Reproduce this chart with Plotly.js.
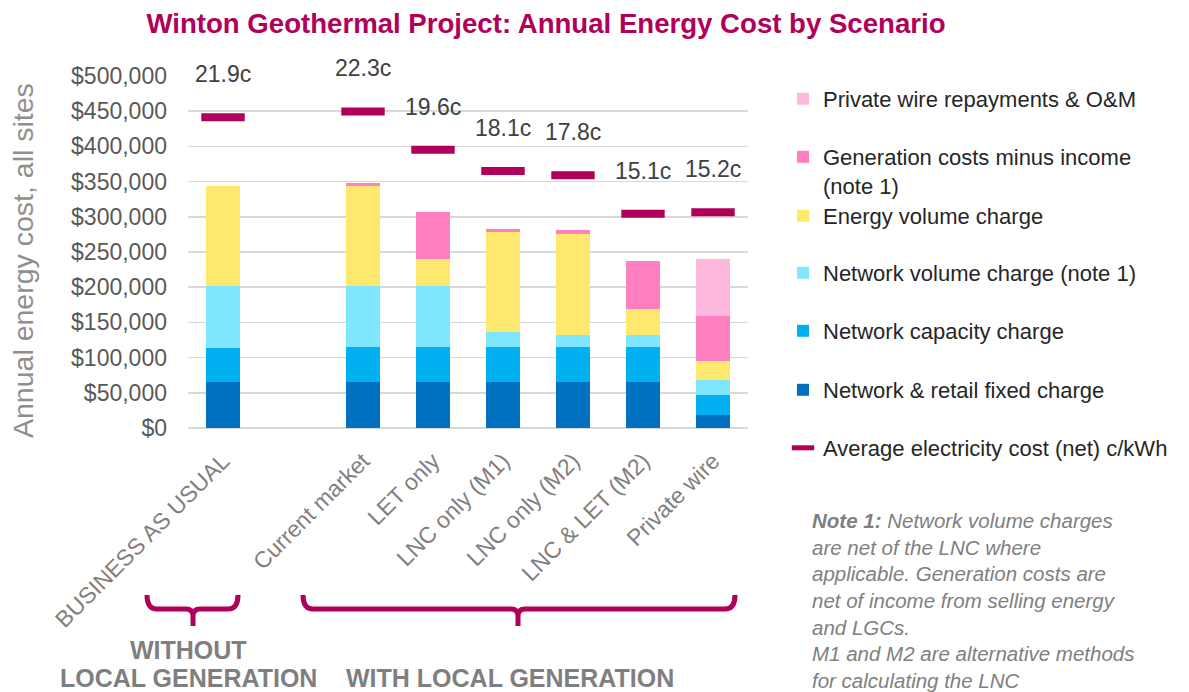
<!DOCTYPE html>
<html>
<head>
<meta charset="utf-8">
<script src="https://cdn.plot.ly/plotly-3.0.1.min.js"></script>
<style>html,body{margin:0;padding:0;background:#fff;}#chart{width:1189px;height:692px;}</style>
</head>
<body>
<div id="chart"></div>
<script>
// ---- data ----
const scenarios = ['BUSINESS AS USUAL', 'Current market', 'LET only', 'LNC only (M1)', 'LNC only (M2)', 'LNC & LET (M2)', 'Private wire'];
const axisCategories = ['BUSINESS AS USUAL', ' ', 'Current market', 'LET only', 'LNC only (M1)', 'LNC only (M2)', 'LNC & LET (M2)', 'Private wire'];
const fixedCharge    = [66000, 66000, 66000, 66000, 66000, 66000, 18000];
const capacityCharge = [47000, 49000, 49000, 49000, 49000, 49000, 29000];
const networkVolume  = [89000, 87000, 87000, 21000, 17000, 17000, 21000];
const energyVolume   = [142000, 141500, 37500, 142000, 144000, 37000, 27000];
const generationNet  = [0, 5000, 68000, 4300, 4800, 68000, 64000];
const privateWire    = [0, 0, 0, 0, 0, 0, 81000];
const avgCost        = [21.9, 22.3, 19.6, 18.1, 17.8, 15.1, 15.2]; // c/kWh

const seriesNames = {
  fixed: 'Network & retail fixed charge',
  capacity: 'Network capacity charge',
  netvol: 'Network volume charge (note 1)',
  energy: 'Energy volume charge',
  gen: 'Generation costs minus income<br>(note 1)',
  pw: 'Private wire repayments & O&M',
  avg: 'Average electricity cost (net) c/kWh'
};
const noteLines = [
  '<b>Note 1:</b> Network volume charges',
  'are net of the LNC where',
  'applicable. Generation costs are',
  'net of income from selling energy',
  'and LGCs.',
  'M1 and M2 are alternative methods',
  'for calculating the LNC'
];

// ---- layout geometry (pixels) ----
const W = 1189, H = 692;
const PL = 188, PR = 748, PT = 76, PB = 428;
const px = x => (x - PL) / (PR - PL);
const py = y => (PB - y) / (PB - PT);
const MAGENTA = '#B0005A';

function bar(y, name, color, legendId) {
  return {type: 'bar', x: scenarios, y: y, name: name, legend: legendId,
    marker: {color: color, line: {width: 0}}, hoverinfo: 'name+y'};
}
const traces = [
  bar(fixedCharge, seriesNames.fixed, '#0070C0', 'legend6'),
  bar(capacityCharge, seriesNames.capacity, '#00B0F0', 'legend5'),
  bar(networkVolume, seriesNames.netvol, '#80E7FE', 'legend4'),
  bar(energyVolume, seriesNames.energy, '#FEE96E', 'legend3'),
  bar(generationNet, seriesNames.gen, '#FF7FC1', 'legend2'),
  bar(privateWire, seriesNames.pw, '#FFB8DD', 'legend'),
  {type: 'scatter', mode: 'markers', x: scenarios, y: avgCost, yaxis: 'y2',
   name: seriesNames.avg, legend: 'legend7',
   marker: {symbol: 'line-ew', size: 31, color: MAGENTA, line: {color: MAGENTA, width: 8}}}
];

const FONT = 'Liberation Sans, Arial, sans-serif';
function legendAt(yPx, anchor) {
  return {x: px(783), xanchor: 'left', y: py(yPx), yanchor: anchor || 'middle',
    bgcolor: 'rgba(0,0,0,0)', valign: 'top',
    font: {family: FONT, size: 22, color: '#262626'}};
}

function brace(x1, x2, xm) {
  const yT = 595, yL = 609, yTip = 626, r = 10, rm = 7;
  const P = (x, y) => px(x).toFixed(5) + ',' + py(y).toFixed(5);
  return 'M' + P(x1, yT) + ' Q' + P(x1, yL) + ' ' + P(x1 + r, yL) +
    ' L' + P(xm - rm, yL) + ' Q' + P(xm, yL) + ' ' + P(xm, yL + rm) +
    ' L' + P(xm, yTip) + ' M' + P(xm, yL + rm) + ' Q' + P(xm, yL) + ' ' + P(xm + rm, yL) +
    ' L' + P(x2 - r, yL) + ' Q' + P(x2, yL) + ' ' + P(x2, yT);
}

function textAnn(text, xPx, yPx, size, color, opts) {
  return Object.assign({text: text, xref: 'paper', yref: 'paper', x: px(xPx), y: py(yPx),
    xanchor: 'center', yanchor: 'middle', showarrow: false,
    font: {family: FONT, size: size, color: color}}, opts || {});
}

const annotations = [];
// average labels, positioned from the data
avgCost.forEach((v, i) => {
  annotations.push({x: scenarios[i], y: v, xref: 'x', yref: 'y2', yshift: 43,
    text: v.toFixed(1) + 'c', showarrow: false, xanchor: 'center', yanchor: 'middle',
    font: {family: FONT, size: 23, color: '#404040'}});
});
// y-axis title
annotations.push(textAnn('Annual energy cost, all sites', 23, 261, 28.5, '#8f8f8f', {textangle: -90}));
// group labels
annotations.push(textAnn('<b>WITHOUT</b>', 188, 650, 25, '#7f7f7f'));
annotations.push(textAnn('<b>LOCAL GENERATION</b>', 188, 678, 25, '#7f7f7f'));
annotations.push(textAnn('<b>WITH LOCAL GENERATION</b>', 510, 678, 25, '#7f7f7f'));
// note
annotations.push(textAnn(noteLines.join('<br>'), 810, 507, 20.5, '#808080',
  {xanchor: 'left', yanchor: 'top', align: 'left', font: {family: FONT, size: 20.5, color: '#808080', style: 'italic'}}));

const layout = {
  width: W, height: H,
  paper_bgcolor: '#fff', plot_bgcolor: '#fff',
  margin: {l: PL, r: W - PR, t: PT, b: H - PB, pad: 0},
  barmode: 'stack', bargap: 0.514,
  title: {text: 'Winton Geothermal Project: Annual Energy Cost by Scenario',
    x: 546 / W, xref: 'container', xanchor: 'center', y: 1 - 23 / H, yref: 'container', yanchor: 'middle',
    font: {family: FONT, size: 27.6, color: MAGENTA, weight: 700}},
  xaxis: {type: 'category', categoryorder: 'array', categoryarray: axisCategories,
    range: [-0.5, 7.5], tickangle: -45, showgrid: false, showline: false, zeroline: false,
    ticks: '', ticklabelstandoff: 14, tickfont: {family: FONT, size: 23, color: '#7f7f7f'}, automargin: false},
  yaxis: {range: [0, 500000], tickvals: [0,50000,100000,150000,200000,250000,300000,350000,400000,450000,500000],
    tickformat: '$,.0f', showgrid: true, gridcolor: '#d9d9d9', gridwidth: 1.5,
    zeroline: true, zerolinecolor: '#d9d9d9', zerolinewidth: 1.5, showline: false,
    ticks: '', ticklabelstandoff: 20, tickfont: {family: FONT, size: 23, color: '#595959'}, automargin: false},
  yaxis2: {overlaying: 'y', side: 'right', range: [0, 24.8], visible: false, showgrid: false},
  legend: legendAt(99),
  legend2: legendAt(158 - 22, 'top'),
  legend3: legendAt(216),
  legend4: legendAt(273),
  legend5: legendAt(331),
  legend6: legendAt(390),
  legend7: legendAt(448),
  shapes: [
    {type: 'path', xref: 'paper', yref: 'paper', path: brace(147, 238, 193), line: {color: MAGENTA, width: 5}, layer: 'above'},
    {type: 'path', xref: 'paper', yref: 'paper', path: brace(303, 735, 518), line: {color: MAGENTA, width: 5}, layer: 'above'}
  ],
  annotations: annotations,
  showlegend: true
};

Plotly.newPlot('chart', traces, layout, {displayModeBar: false, staticPlot: true});
</script>
</body>
</html>
